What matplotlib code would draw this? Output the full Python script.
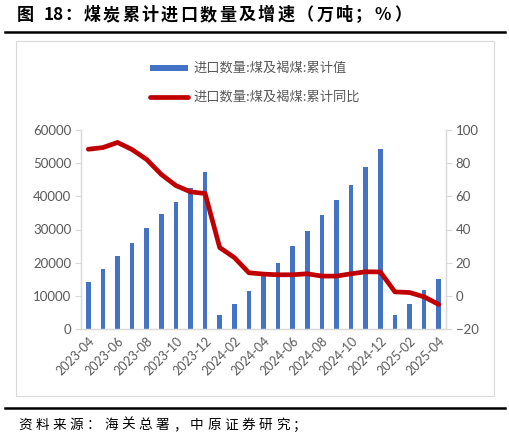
import matplotlib
matplotlib.use("Agg")
import matplotlib.pyplot as plt
from matplotlib.patches import Rectangle
from matplotlib.lines import Line2D

plt.rcParams['font.family'] = ['Lato', 'Noto Sans CJK SC', 'DejaVu Sans']

months = ["2023-04", "2023-05", "2023-06", "2023-07", "2023-08", "2023-09", "2023-10",
          "2023-11", "2023-12", "2024-01", "2024-02", "2024-03", "2024-04", "2024-05",
          "2024-06", "2024-07", "2024-08", "2024-09", "2024-10", "2024-11", "2024-12",
          "2025-01", "2025-02", "2025-03", "2025-04"]
cum_value = [14172, 18206, 22093, 26023, 30438, 34650, 38330, 42600, 47442,
             4100, 7469, 11582, 15897, 20045, 24979, 29560, 34264, 38908, 43499,
             48958, 54270, 4100, 7612, 11681, 15202]
cum_yoy = [88.4, 89.4, 92.5, 88.2, 82.2, 73.2, 66.5, 62.7, 61.7, 29.1, 23.1, 13.9,
           13.1, 12.7, 12.7, 13.3, 11.9, 11.9, 13.3, 14.5, 14.4, 2.4, 2.0, -0.6, -5.2]

label_bar = "进口数量:煤及褐煤:累计值"
label_line = "进口数量:煤及褐煤:累计同比"
title_head = "图"
title_num = "18"
title_rest = "：煤炭累计进口数量及增速（万吨；%）"
source = "资料来源：海关总署，中原证券研究；"

W, H = 510, 441
fig = plt.figure(figsize=(W / 100, H / 100), dpi=100)

def fx(px):
    return px / W

def fy(py):
    return 1 - py / H

grey = "#595959"
axis_grey = "#D9D9D9"
cjk = ['Noto Sans CJK SC', 'DejaVu Sans']

# title (spaced characters)
tkw = dict(fontsize=12.3, fontweight='bold', va='center', ha='left', family=cjk, color='black')
fig.text(fx(17), fy(15), title_head, **tkw)
fig.text(fx(44), fy(15), title_num, **tkw)
for i, ch in enumerate(title_rest):
    fig.text(fx(64 + i * 19.4), fy(15), ch, **tkw)

fig.add_artist(Line2D([fx(5), fx(505)], [fy(31.5), fy(31.5)], color='black', lw=1.8))
fig.add_artist(Line2D([fx(5), fx(505)], [fy(408), fy(408)], color='black', lw=1.8))

# source (spaced characters)
skw = dict(fontsize=9.8, va='center', ha='left', family=cjk, color='black')
for i, ch in enumerate(source):
    fig.text(fx(18 + i * 17.2), fy(425), ch, **skw)

# chart area border
fig.add_artist(Rectangle((fx(16), fy(396)), fx(494) - fx(16), fy(41) - fy(396),
                         fill=False, edgecolor=axis_grey, lw=0.8))

# axes
x0, x1, ytop, ybot = 81, 446, 130, 329
ax = fig.add_axes([fx(x0), fy(ybot), fx(x1) - fx(x0), fy(ytop) - fy(ybot)])
ax2 = ax.twinx()

xs = list(range(len(months)))
ax.bar(xs, cum_value, width=0.32, color="#4472C4", zorder=2)
ax2.plot(xs, cum_yoy, color="#C00000", lw=3.4, solid_joinstyle='round', solid_capstyle='round', zorder=3)

ax.set_xlim(-0.5, len(months) - 0.5)
ax.set_ylim(0, 60000)
ax.set_yticks(range(0, 60001, 10000))
ax2.set_ylim(-20, 100)
ax2.set_yticks(range(-20, 101, 20))

ax.set_xticks(xs[::2])
ax.set_xticklabels(months[::2], rotation=45, ha='right', va='top', rotation_mode='anchor',
                   fontsize=9, color=grey)
ax.tick_params(axis='x', length=0, pad=4)
ax.tick_params(axis='y', length=4, width=0.8, color=axis_grey, labelsize=9.5, labelcolor=grey, pad=3)
ax2.tick_params(axis='y', length=4, width=0.8, color=axis_grey, labelsize=9.5, labelcolor=grey, pad=3)

for a in (ax, ax2):
    a.spines['top'].set_visible(False)
    for s in ('left', 'right', 'bottom'):
        a.spines[s].set_color(axis_grey)
        a.spines[s].set_linewidth(0.9)
ax.patch.set_visible(False)

# legend
leg_font = dict(fontsize=9.5, color=grey, va='center', ha='left', family=cjk)
fig.add_artist(Rectangle((fx(150), fy(71)), fx(188) - fx(150), fy(65) - fy(71),
                         facecolor="#4472C4", edgecolor='none'))
fig.text(fx(193), fy(68), label_bar, **leg_font)
fig.add_artist(Line2D([fx(150), fx(188)], [fy(97), fy(97)], color="#C00000", lw=3.4,
                      solid_capstyle='round'))
fig.text(fx(193), fy(97), label_line, **leg_font)

fig.savefig("out.png", dpi=100)
